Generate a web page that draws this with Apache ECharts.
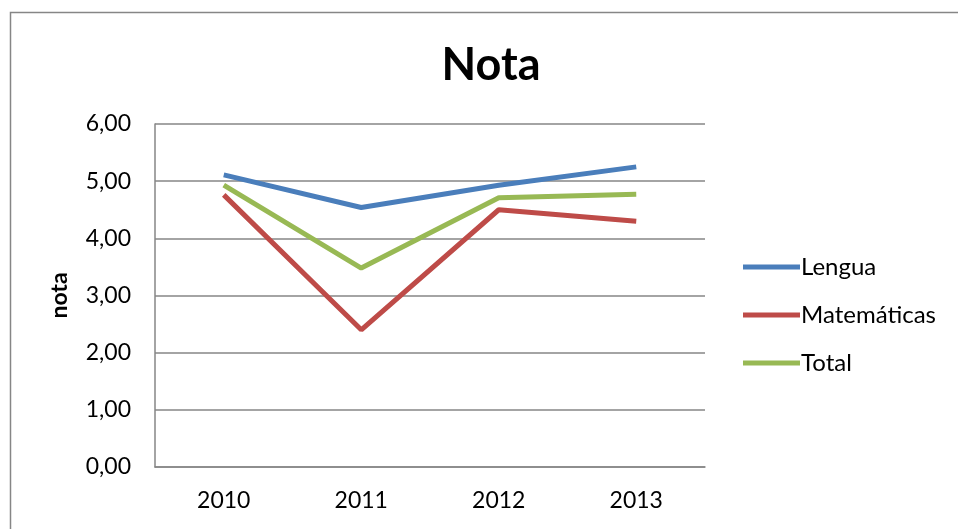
<!DOCTYPE html>
<html>
<head>
<meta charset="utf-8">
<script src="https://cdn.jsdelivr.net/npm/echarts@6/dist/echarts.min.js"></script>
<style>
html,body{margin:0;padding:0;background:#fff;}
#chart{width:958px;height:529px;}
</style>
</head>
<body>
<div id="chart"></div>
<script>
var years = ['2010', '2011', '2012', '2013'];
var lengua = [5.11, 4.54, 4.93, 5.25];
var matematicas = [4.76, 2.40, 4.50, 4.30];
var total = [4.93, 3.48, 4.71, 4.77];
var seriesNames = ['Lengua', 'Matemáticas', 'Total'];
var seriesColors = ['#4a7ebb', '#be4b48', '#98b954'];

var fontFam = 'Lato, "Open Sans", sans-serif';
var chart = echarts.init(document.getElementById('chart'));

function makeLine(name, data, color) {
    return {
        name: name,
        type: 'line',
        data: data,
        symbol: 'none',
        lineStyle: { color: color, width: 5 },
        itemStyle: { color: color }
    };
}

var option = {
    animation: false,
    backgroundColor: '#fff',
    graphic: [{
        type: 'rect',
        shape: { x: 10.5, y: 12.5, width: 1000, height: 600 },
        style: { fill: 'none', stroke: '#868686', lineWidth: 1.5 },
        silent: true
    }],
    title: {
        text: 'Nota',
        left: 486,
        top: 38,
        textAlign: 'center',
        textStyle: { fontFamily: fontFam, fontSize: 45, fontWeight: 'bold', color: '#000' }
    },
    legend: {
        orient: 'vertical',
        left: 738,
        top: 248,
        icon: 'rect',
        itemWidth: 57,
        itemHeight: 5,
        itemGap: 20,
        textStyle: { fontFamily: fontFam, fontSize: 24, lineHeight: 28, color: '#000', padding: [0, 0, 0, -4] },
        data: seriesNames
    },
    grid: { left: 155, right: 253, top: 124, bottom: 62 },
    xAxis: {
        type: 'category',
        data: years,
        boundaryGap: true,
        axisLine: { lineStyle: { color: '#868686', width: 1.5 } },
        axisTick: { show: false },
        axisLabel: { fontFamily: fontFam, fontSize: 23, color: '#000', margin: 22 }
    },
    yAxis: {
        type: 'value',
        min: 0,
        max: 6,
        interval: 1,
        name: 'nota',
        nameLocation: 'middle',
        nameGap: 84,
        nameTextStyle: { fontFamily: fontFam, fontSize: 23, fontWeight: 'bold', color: '#000' },
        axisLine: { show: true, lineStyle: { color: '#868686', width: 1.5 } },
        axisTick: { show: false },
        splitLine: { lineStyle: { color: '#868686', width: 1.5 } },
        axisLabel: {
            fontFamily: fontFam, fontSize: 23, color: '#000', margin: 24,
            formatter: function (v) { return v.toFixed(2).replace('.', ','); }
        }
    },
    series: [
        makeLine(seriesNames[0], lengua, seriesColors[0]),
        makeLine(seriesNames[1], matematicas, seriesColors[1]),
        makeLine(seriesNames[2], total, seriesColors[2])
    ]
};
chart.setOption(option);
</script>
</body>
</html>
